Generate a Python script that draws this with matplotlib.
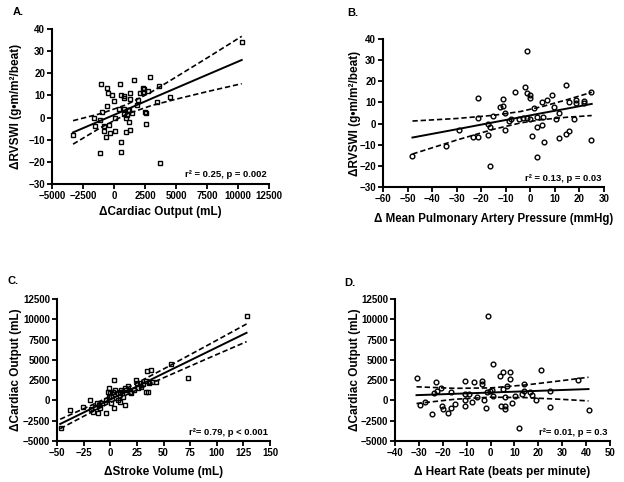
import numpy as np
import matplotlib
matplotlib.use('Agg')
import matplotlib.pyplot as plt

plt.rcParams['font.family'] = ['Liberation Sans', 'DejaVu Sans']
plt.rcParams['font.weight'] = 'bold'
plt.rcParams['axes.labelweight'] = 'bold'

# --- A: dRVSWI vs dCardiac output ---
a_x = [-3300, -1030, -1600, -1510, -975, -1110, -1160, -570, -520, -570, -840, -790, -625, -440,
       -300, -170, 0, 100, 100, 500, 555, 555, 555, 770, 825, 770, 1040, 960, 985, 1170, 1250,
       1250, 1310, 1230, 1575, 1440, 1840, 1900, 2110, 2330, 2330, 2430, 2515, 2570, 2570, 2780,
       2920, 3590, 3450, 3720, 4530, 10350, 825, 370, 1090]
a_y = [-8, 15, 0, -3.7, 2.7, -1, -15.8, 13.5, 11.2, 5, -4, -6, -8.6, -3.4,
       -7, 10, 7.6, -0.3, -6, 15, 10, -10.9, -15.4, 9.8, 9, 1.5, 1, -0.3, -6.4, 3.4, 11.2,
       8.2, -5.6, -1.8, 17, 2, 5.7, 8, 11, 13.5, 11.7, 12.8, 2.4, 2, -2.9, 12,
       18.2, 14.3, 7.2, -20.4, 9.5, 34.3, 4, 4, 3.4]
a_fx = [-3300, -1000, 1000, 3000, 5000, 7500, 10300]
a_fit = [-6.7, -1.2, 3.6, 8.5, 13.3, 19.3, 26.0]
a_hi = [-1.4, 1.9, 5.8, 11.5, 18.3, 26.9, 36.7]
a_lo = [-12.0, -4.3, 1.5, 5.4, 8.3, 11.7, 15.3]

# --- B: dRVSWI vs dMPAP ---
b_x = [-48.2, -34.3, -29.2, -23.3, -21.5, -21.3, -21.3, -17.2, -17.2, -16.6, -16.3, -15.2, -12.2,
       -11.3, -11.3, -10.2, -10.2, -8.6, -7.7, -6.4, -2.3, -1.4, -1.4, -0.3, -0.3, -1.4, -0.3,
       0.7, 1.6, 2.7, 2.7, 2.7, 4.7, 4.7, 5.7, 6.8, 8.8, 9.5, 10.6, 11.8, 11.8, 14.7, 14.7,
       15.6, 15.9, 17.6, 18.6, 18.6, 21.7, 21.7, 24.7, 24.7, -4.5, -3.0, 5.0]
b_y = [-15.4, -10.5, -3.1, -6.2, -6.2, 12.0, 2.8, -5.5, -0.2, -1.5, -20.2, 3.6, 7.7,
       8.3, 11.5, 4.8, -3.1, 1.4, 2.0, 15.1, 17.2, 34.1, 14.3, 13.6, 12.0, 2.5, 2.0,
       -5.9, 7.3, -1.8, -15.7, 3.0, -0.7, 10.4, -8.6, 11.2, 13.6, 7.7, 2.0, -7.0, 5.2, 18.3, -4.7,
       -3.6, 10.4, 2.0, 11.2, 9.9, 10.9, 9.9, 15.1, -7.8, 2.2, 2.5, 3.0]
b_fx = [-48, -30, -15, -4, 5, 15, 25]
b_fit = [-6.6, -2.7, 0.6, 3.0, 5.0, 7.1, 9.3]
b_hi = [1.2, 2.4, 3.9, 5.7, 8.1, 11.3, 14.8]
b_lo = [-14.4, -7.8, -2.7, 0.3, 1.9, 3.0, 3.8]

# --- C: dCardiac output vs dStroke volume ---
c_x = [128.7, 57.5, 72.6, 34.6, 38.1, 33.4, 43.4, 39.3, 36.4, 29.3, 30.9, 27.7, 25.2, 24.0,
       33.4, 35.6, 16.8, 15.2, 18.3, 19.9, 22.1, 14.3, 10.5, 8.9, 7.4, 3.3, -2.0, -0.4, 1.1,
       2.7, 4.2, 5.8, 7.4, 8.9, 12.1, 13.6, -3.6, -1.1, 1.1, 3.3, -3.6, -7.4, -10.5, -11.5,
       -14.6, -16.1, -19.3, -25.5, -38.1, -45.9, -12.4, -9.9, -17.7, -1.1, 11.4, 26.0]
c_y = [10359, 4513, 2743, 3648, 3772, 2455, 2331, 2331, 2125, 1714, 2043, 2208, 2125, 2537,
       1055, 1014, 1796, 1302, 1096, 890, 1302, 1590, 1302, 1096, 890, 2537, 1096, 890, 561,
       1096, 1302, 273, 67, -139, 479, -551, -1580, 479, -345, -963, 67, -345, -551, -1498,
       -757, -1374, 67, -757, -1168, -3433, -263, -963, -1045, 1508, 890, 1508]
c_fx = [-47, -20, 0, 20, 50, 90, 128]
c_fit = [-2900, -1167, 117, 1401, 3327, 5895, 8335]
c_hi = [-2320, -727, 508, 1809, 3865, 6699, 9425]
c_lo = [-3480, -1607, -274, 993, 2789, 5091, 7245]

# --- D: dCardiac output vs dHeart rate ---
d_x = [-30.8, -29.7, -27.5, -24.7, -22.9, -23.7, -22.6, -20.8, -19.8, -20.5, -17.7, -16.6, -16.7,
       -14.7, -10.7, -10.7, -10.7, -10.7, -8.9, -7.9, -6.8, -5.8, -3.7, -3.7, -2.8, -1.9, -0.9,
       -1.6, -0.2, 0.5, 1.2, 1.2, 4.0, 5.1, 5.1, 4.2, 6.1, 6.1, 6.1, 7.0, 8.2, 8.2, 9.1, 10.3,
       12.1, 13.1, 14.0, 14.0, 16.5, 17.2, 18.9, 21.2, 25.0, 25.0, 36.8, 41.0]
d_y = [2743, -590, -140, -1660, 2290, 973, 1180, 1590, -1086, -633, -1580, -880, 1096,
       -468, 2413, 767, 67, -633, 810, -140, 2290, 478, 2413, 2040, 67, -960, 10360,
       980, 1140, 1260, 520, 4513, 2950, 3443, 1385, -633, 478, -633, -1040, 1800, 3560, 2620, -300, 520,
       -3350, 810, 2000, 1220, 1010, 680, 67, 3690, 1140, -800, 2537, -1170]
d_fx = [-31, -15, 0, 15, 30, 41]
d_fit = [650, 817, 973, 1129, 1286, 1400]
d_hi = [1680, 1491, 1543, 1916, 2442, 2860]
d_lo = [-380, 143, 403, 342, 130, -60]

W, H = 624, 482
fig = plt.figure(figsize=(W / 100, H / 100), dpi=100)


def panel(box, x, y, mk, fx, fit, hi, lo, xlim, ylim, xstep, ystep,
          xlab, ylab, note, letter, lpos, ylc, xlc, xfs=8.5):
    l, t, r, b = box
    ax = fig.add_axes([l / W, 1 - b / H, (r - l) / W, (b - t) / H])
    ax.plot(x, y, mk, ms=3.4, mfc='none', mec='black', mew=1.0, ls='none', clip_on=False)
    ax.plot(fx, fit, color='black', lw=1.4)
    ax.plot(fx, hi, color='black', lw=1.2, ls=(0, (3.2, 1.7)))
    ax.plot(fx, lo, color='black', lw=1.2, ls=(0, (3.2, 1.7)))
    ax.set_xlim(*xlim)
    ax.set_ylim(*ylim)
    ax.set_xticks(np.arange(xlim[0], xlim[1] + xstep / 2, xstep))
    ax.set_yticks(np.arange(ylim[0], ylim[1] + ystep / 2, ystep))
    for s in ['top', 'right']:
        ax.spines[s].set_visible(False)
    for s in ['left', 'bottom']:
        ax.spines[s].set_linewidth(1.5)
    ax.tick_params(direction='out', width=1.3, length=3.5, labelsize=7, pad=1.5)
    ax.set_xlabel(xlab, fontsize=xfs)
    ax.set_ylabel(ylab, fontsize=8.5)
    ax.yaxis.set_label_coords(ylc, 0.5)
    ax.xaxis.set_label_coords(0.5, xlc)
    ax.text(0.99, 0.03, note, transform=ax.transAxes, ha='right', va='bottom', fontsize=6.8)
    fig.text(lpos[0] / W, 1 - lpos[1] / H, letter, fontsize=8, ha='left', va='center')
    return ax


panel((52, 29, 269, 184), a_x, a_y, 's', a_fx, a_fit, a_hi, a_lo,
      (-5000, 12500), (-30, 40), 2500, 10,
      'ΔCardiac Output (mL)', 'ΔRVSWI (g•m/m²/beat)', 'r² = 0.25, p = 0.002',
      'A.', (13, 12), -0.136, -0.143)
panel((383, 39, 604, 187), b_x, b_y, 'o', b_fx, b_fit, b_hi, b_lo,
      (-60, 30), (-30, 40), 10, 10,
      'Δ Mean Pulmonary Artery Pressure (mmHg)', 'ΔRVSWI (g•m/m²/beat)', 'r² = 0.13, p = 0.03',
      'B.', (347, 13), -0.101, -0.178, xfs=8.3)
panel((57, 299, 270, 441), c_x, c_y, 's', c_fx, c_fit, c_hi, c_lo,
      (-50, 150), (-5000, 12500), 25, 2500,
      'ΔStroke Volume (mL)', 'ΔCardiac Output (mL)', 'r²= 0.79, p < 0.001',
      'C.', (7, 281), -0.165, -0.178)
panel((395, 299, 610, 441), d_x, d_y, 'o', d_fx, d_fit, d_hi, d_lo,
      (-40, 50), (-5000, 12500), 10, 2500,
      'Δ Heart Rate (beats per minute)', 'ΔCardiac Output (mL)', 'r²= 0.01, p = 0.3',
      'D.', (344, 283), -0.156, -0.174)

fig.savefig('out.png', dpi=100)
